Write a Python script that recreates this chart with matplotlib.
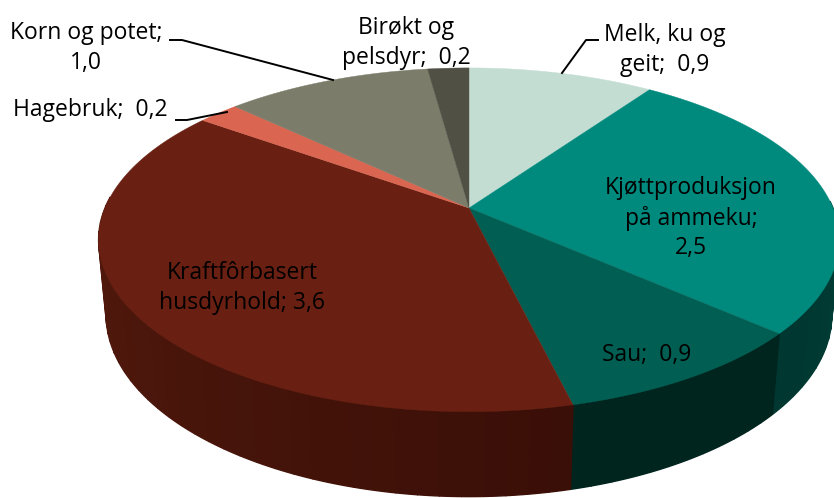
import matplotlib
matplotlib.use("Agg")
import matplotlib.pyplot as plt
import numpy as np

# data, clockwise from 12 o'clock
names = ["Melk, ku og\ngeit", "Kjøttproduksjon\npå ammeku", "Sau", "Kraftfôrbasert\nhusdyrhold",
         "Hagebruk", "Korn og potet", "Birøkt og\npelsdyr"]
values = [0.9, 2.5, 0.9, 3.6, 0.2, 1.0, 0.2]
separators = [";  ", ";\n", ";  ", "; ", ";  ", ";\n", ";  "]

top_colors = ["#C4DDD3", "#008A7E", "#005F52", "#692012", "#DA6550", "#7B7C69", "#505045"]
# side wall colours at the start and the end of each slice
side_start = ["#5E6E68", "#004A44", "#00241E", "#3A0F07", "#6E3226", "#3D3E34", "#282822"]
side_end = ["#5E6E68", "#00362F", "#00241E", "#5E1E0F", "#6E3226", "#3D3E34", "#282822"]

# label centres, picture pixels
label_x = [665, 691, 647, 242, 90, 86, 406]
label_y = [50, 218, 355, 288, 110, 48, 43]

# camera for the disc
cx, cy = 469, 208
rx, ry = 364, 166
persp = 0.185
depth = 75
shrink = 0.02


def project(angle, z=0.0, r=1.0):
    u = r * np.sin(angle)
    v = r * np.cos(angle)
    w = 1 + persp * v + shrink * z
    return cx + rx * u / w, cy - (ry * v - depth * z) / w


def mix(c1, c2, t):
    a = np.array(matplotlib.colors.to_rgb(c1))
    b = np.array(matplotlib.colors.to_rgb(c2))
    return tuple(a + (b - a) * t)


fig = plt.figure(figsize=(8.34, 4.98), dpi=100)
ax = fig.add_axes([0, 0, 1, 1])
ax.set_xlim(0, 834)
ax.set_ylim(498, 0)
ax.axis("off")

edges = np.cumsum([0] + values) / sum(values) * 2 * np.pi

# side wall first, back to front, only the part facing the viewer
strips = []
for i in range(len(values)):
    n = max(int((edges[i + 1] - edges[i]) / 0.05), 2)
    a = np.linspace(edges[i], edges[i + 1], n + 1)
    for j in range(n):
        if np.cos(a[j]) < 0.05:
            strips.append((a[j], a[j + 1], mix(side_start[i], side_end[i], j / n)))
strips.sort(key=lambda s: -np.cos(s[0]))
for a0, a1, col in strips:
    t = np.linspace(a0, a1, 6)
    x0, y0 = project(t)
    x1, y1 = project(t, z=1.0)
    ax.fill(np.r_[x0, x1[::-1]], np.r_[y0, y1[::-1]], color=col, lw=1.0)

# top of the pie
for i in range(len(values)):
    a = np.linspace(edges[i], edges[i + 1], 120)
    x, y = project(a)
    ax.fill(np.r_[cx, x], np.r_[cy, y], color=top_colors[i], lw=0.3)

# leader lines
ax.plot([170, 182, 333], [40, 40, 80], color="black", lw=1.4)
ax.plot([176, 187, 227], [120, 120, 112], color="black", lw=1.4)
ax.plot([562, 586, 598], [73, 40, 40], color="black", lw=1.4)

for i in range(len(values)):
    label = names[i] + separators[i] + "{:.1f}".format(values[i]).replace(".", ",")
    ax.text(label_x[i], label_y[i], label, ha="center", va="center", ma="center",
            fontsize=16.5, family="Open Sans", color="black", linespacing=1.3)

fig.savefig("out.png", dpi=100)
